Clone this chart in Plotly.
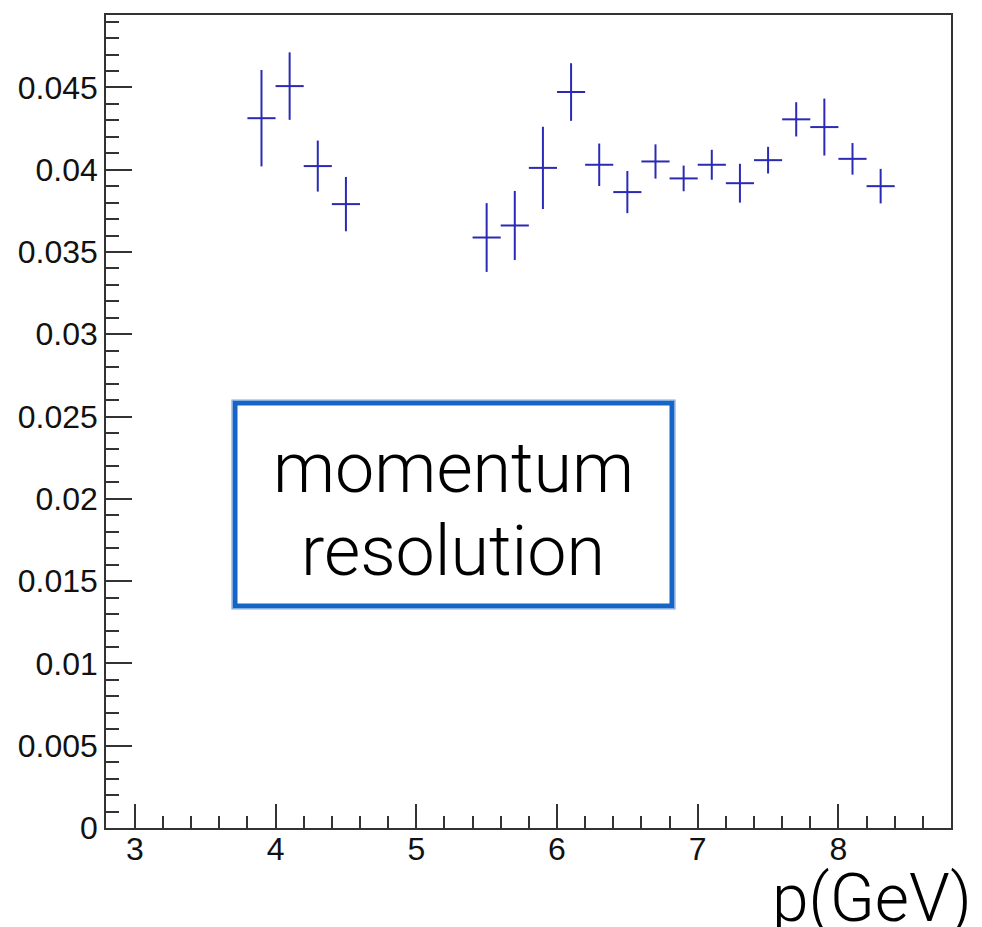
import plotly.graph_objects as go

# Momentum bins (bin centres, GeV) and measured resolution with stat. errors
p_centres = [3.9, 4.1, 4.3, 4.5, 5.5, 5.7, 5.9, 6.1, 6.3, 6.5,
             6.7, 6.9, 7.1, 7.3, 7.5, 7.7, 7.9, 8.1, 8.3]
resolution = [0.04313, 0.04508, 0.04022, 0.03791, 0.03588, 0.03661, 0.04011,
              0.04472, 0.04030, 0.03864, 0.04050, 0.03947, 0.04030, 0.03918,
              0.04058, 0.04306, 0.04259, 0.04066, 0.03900]
resolution_err = [0.00293, 0.00205, 0.00155, 0.00165, 0.00209, 0.00210, 0.00250,
                  0.00175, 0.00129, 0.00128, 0.00104, 0.00078, 0.00091, 0.00118,
                  0.00081, 0.00104, 0.00173, 0.00096, 0.00105]
bin_half_width = [0.1] * len(p_centres)

y_tick_values = [0, 0.005, 0.01, 0.015, 0.02, 0.025, 0.03, 0.035, 0.04, 0.045]
y_tick_labels = ["0", "0.005", "0.01", "0.015", "0.02", "0.025", "0.03",
                 "0.035", "0.04", "0.045"]

W, H = 982, 927
L, R, T, B = 106, 31, 15, 99
plot_w = W - L - R
plot_h = H - T - B


def px_x(x):
    return (x - L) / plot_w


def px_y(y):
    return (H - B - y) / plot_h


line_col = "#2a2ab4"
axis_col = "#333333"
box_col = "#1664c6"

fig = go.Figure()
fig.add_trace(go.Scatter(
    x=p_centres, y=resolution, mode="markers",
    marker=dict(size=0, color=line_col, opacity=0),
    error_x=dict(type="data", array=bin_half_width, width=0,
                 thickness=2, color=line_col),
    error_y=dict(type="data", array=resolution_err, width=0,
                 thickness=2, color=line_col),
    showlegend=False,
))

tick_font = dict(family="Liberation Sans, Arial, sans-serif", size=32, color="#111111")

fig.update_xaxes(
    range=[2.795, 8.80], tick0=3, dtick=1,
    ticks="inside", ticklen=24, tickwidth=1.5, tickcolor=axis_col,
    minor=dict(dtick=0.2, ticks="inside", ticklen=12, tickwidth=1.5, tickcolor=axis_col),
    showline=True, linecolor=axis_col, linewidth=1.5, mirror=True,
    showgrid=False, zeroline=False, tickfont=tick_font,
    ticklabelstandoff=-8,
)
fig.update_yaxes(
    range=[0, 0.0494], tickvals=y_tick_values, ticktext=y_tick_labels,
    ticks="inside", ticklen=26, tickwidth=1.5, tickcolor=axis_col,
    minor=dict(dtick=0.001, tick0=0, ticks="inside", ticklen=13, tickwidth=1.5, tickcolor=axis_col),
    showline=True, linecolor=axis_col, linewidth=1.5, mirror=True,
    showgrid=False, zeroline=False, tickfont=tick_font,
)

# Hand-drawn looking frame around the caption
shapes = [
    dict(type="rect", xref="paper", yref="paper",
         x0=px_x(235), x1=px_x(672), y0=px_y(606), y1=px_y(403),
         line=dict(color=box_col, width=5)),
    dict(type="rect", xref="paper", yref="paper",
         x0=px_x(232), x1=px_x(675), y0=px_y(609), y1=px_y(400),
         line=dict(color="#7fa9e2", width=1.2)),
]

light_font = "Roboto, Lato, sans-serif"
annotations = [
    dict(text="momentum", xref="paper", yref="paper", x=px_x(453), y=px_y(468),
         xanchor="center", yanchor="middle", showarrow=False,
         font=dict(family=light_font, size=70, color="black", weight=300)),
    dict(text="resolution", xref="paper", yref="paper", x=px_x(453), y=px_y(551),
         xanchor="center", yanchor="middle", showarrow=False,
         font=dict(family=light_font, size=70, color="black", weight=300)),
    dict(text="p(GeV)", xref="paper", yref="paper", x=px_x(974), y=px_y(899),
         xanchor="right", yanchor="middle", showarrow=False,
         font=dict(family=light_font, size=66, color="black", weight=300)),
]

fig.update_layout(
    width=W, height=H,
    margin=dict(l=L, r=R, t=T, b=B, pad=0),
    paper_bgcolor="white", plot_bgcolor="white",
    shapes=shapes, annotations=annotations,
)

fig.write_html("out.html")
